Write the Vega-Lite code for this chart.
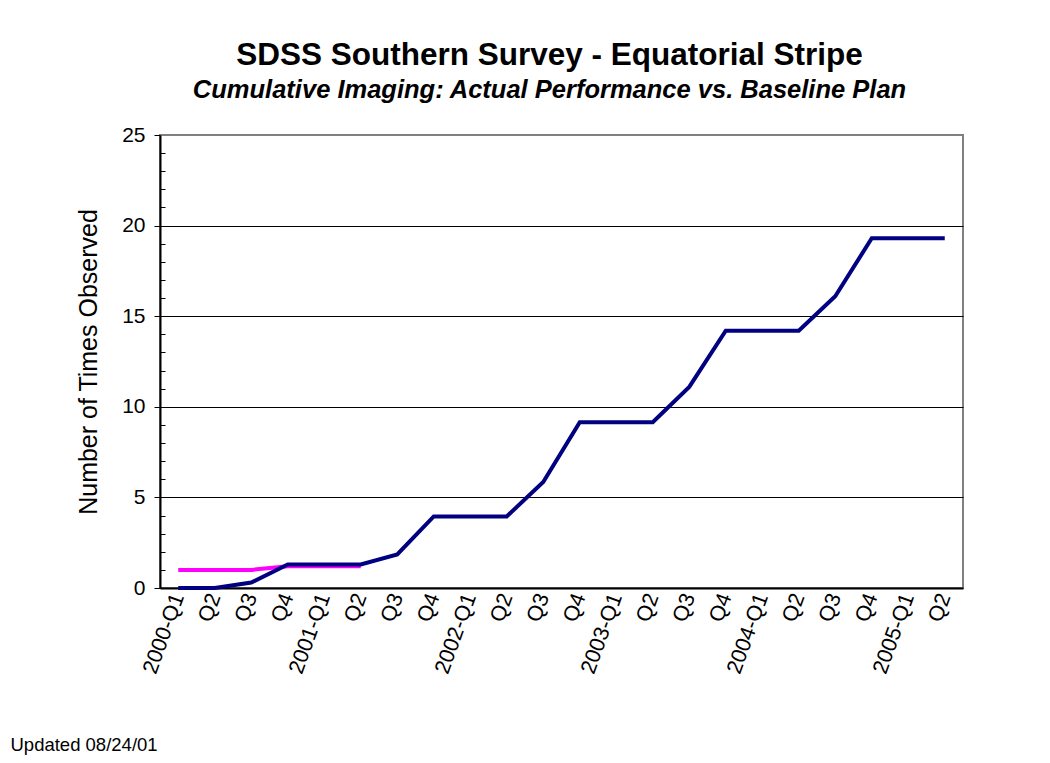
{
  "$schema": "https://vega.github.io/schema/vega-lite/v6.json",
  "width": 803,
  "height": 453,
  "autosize": "none",
  "padding": {"left": 160, "top": 135, "right": 87, "bottom": 175},
  "background": "white",
  "title": {
    "text": "SDSS Southern Survey - Equatorial Stripe",
    "subtitle": "Cumulative Imaging: Actual Performance vs. Baseline Plan",
    "anchor": "middle",
    "dx": -12,
    "font": "Liberation Sans",
    "fontSize": 31.5,
    "fontWeight": "bold",
    "color": "black",
    "subtitleFont": "Liberation Sans",
    "subtitleFontSize": 25.5,
    "subtitleFontWeight": "bold",
    "subtitleFontStyle": "italic",
    "subtitleColor": "black",
    "subtitlePadding": 6,
    "offset": 21
  },
  "config": {
    "view": {"stroke": "#808080", "strokeWidth": 2},
    "font": "Liberation Sans"
  },
  "data": {
    "values": [
      {"period": "2000-Q1", "series": "Actual", "value": 0},
      {"period": "2000-Q2", "series": "Actual", "value": 0},
      {"period": "2000-Q3", "series": "Actual", "value": 0.3},
      {"period": "2000-Q4", "series": "Actual", "value": 1.3},
      {"period": "2001-Q1", "series": "Actual", "value": 1.3},
      {"period": "2001-Q2", "series": "Actual", "value": 1.3},
      {"period": "2001-Q3", "series": "Actual", "value": 1.85},
      {"period": "2001-Q4", "series": "Actual", "value": 3.95},
      {"period": "2002-Q1", "series": "Actual", "value": 3.95},
      {"period": "2002-Q2", "series": "Actual", "value": 3.95},
      {"period": "2002-Q3", "series": "Actual", "value": 5.85},
      {"period": "2002-Q4", "series": "Actual", "value": 9.15},
      {"period": "2003-Q1", "series": "Actual", "value": 9.15},
      {"period": "2003-Q2", "series": "Actual", "value": 9.15},
      {"period": "2003-Q3", "series": "Actual", "value": 11.1},
      {"period": "2003-Q4", "series": "Actual", "value": 14.2},
      {"period": "2004-Q1", "series": "Actual", "value": 14.2},
      {"period": "2004-Q2", "series": "Actual", "value": 14.2},
      {"period": "2004-Q3", "series": "Actual", "value": 16.1},
      {"period": "2004-Q4", "series": "Actual", "value": 19.3},
      {"period": "2005-Q1", "series": "Actual", "value": 19.3},
      {"period": "2005-Q2", "series": "Actual", "value": 19.3},
      {"period": "2000-Q1", "series": "Baseline", "value": 1.0},
      {"period": "2000-Q2", "series": "Baseline", "value": 1.0},
      {"period": "2000-Q3", "series": "Baseline", "value": 1.0},
      {"period": "2000-Q4", "series": "Baseline", "value": 1.2},
      {"period": "2001-Q1", "series": "Baseline", "value": 1.2},
      {"period": "2001-Q2", "series": "Baseline", "value": 1.2}
    ]
  },
  "encoding": {
    "x": {
      "field": "period",
      "type": "ordinal",
      "sort": null,
      "scale": {
        "type": "point",
        "padding": 0.5,
        "domain": ["2000-Q1","2000-Q2","2000-Q3","2000-Q4","2001-Q1","2001-Q2","2001-Q3","2001-Q4","2002-Q1","2002-Q2","2002-Q3","2002-Q4","2003-Q1","2003-Q2","2003-Q3","2003-Q4","2004-Q1","2004-Q2","2004-Q3","2004-Q4","2005-Q1","2005-Q2"]
      },
      "axis": {
        "title": "Updated 08/24/01",
        "titleFont": "Liberation Sans",
        "titleFontSize": 18.5,
        "titleFontWeight": "normal",
        "titleColor": "black",
        "titleAnchor": "start",
        "titleAlign": "left",
        "titleBaseline": "alphabetic",
        "titleX": -150,
        "titleY": 162,
        "labelExpr": "indexof(datum.label, '-Q1') > 0 ? datum.label : slice(datum.label, 5)",
        "labelAngle": -70,
        "labelAlign": "right",
        "labelBaseline": "middle",
        "labelFont": "Liberation Sans",
        "labelFontSize": 21.5,
        "labelColor": "black",
        "labelPadding": 6,
        "ticks": false,
        "grid": false,
        "domainColor": "black",
        "domainWidth": 2
      }
    },
    "y": {
      "field": "value",
      "type": "quantitative",
      "scale": {"domain": [0, 25], "nice": false},
      "axis": {
        "title": "Number of Times Observed",
        "titleFont": "Liberation Sans",
        "titleFontSize": 25,
        "titleFontWeight": "normal",
        "titleColor": "black",
        "titlePadding": 20,
        "values": [0,1,2,3,4,5,6,7,8,9,10,11,12,13,14,15,16,17,18,19,20,21,22,23,24,25],
        "labelExpr": "datum.value % 5 === 0 ? datum.label : ''",
        "labelFont": "Liberation Sans",
        "labelFontSize": 21,
        "labelColor": "black",
        "labelPadding": 9,
        "tickColor": "black",
        "tickWidth": 1,
        "tickSize": {"condition": {"test": "datum.value % 5 === 0", "value": 6}, "value": -5},
        "domainColor": "black",
        "domainWidth": 2,
        "grid": true,
        "gridColor": "black",
        "gridWidth": 1,
        "gridOpacity": {"condition": {"test": "datum.value % 5 === 0 && datum.value > 0 && datum.value < 25", "value": 1}, "value": 0}
      }
    }
  },
  "layer": [
    {
      "transform": [{"filter": "datum.series === 'Baseline'"}],
      "mark": {"type": "line", "color": "#FF00FF", "strokeWidth": 4}
    },
    {
      "transform": [{"filter": "datum.series === 'Actual'"}],
      "mark": {"type": "line", "color": "#000080", "strokeWidth": 4}
    }
  ]
}
